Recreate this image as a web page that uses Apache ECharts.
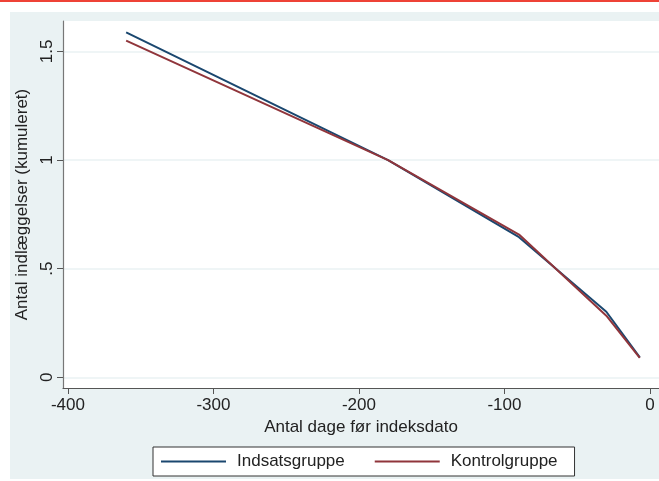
<!DOCTYPE html>
<html>
<head>
<meta charset="utf-8">
<script src="https://cdn.jsdelivr.net/npm/echarts@6/dist/echarts.min.js"></script>
<style>
  html, body { margin: 0; padding: 0; background: #fff; }
  #chart { width: 659px; height: 481px; }
</style>
</head>
<body>
<div id="chart"></div>
<script>
// Cumulative admissions over the days before the index date
const days = [-360, -180, -90, -30, -7];
const indsatsgruppe = [1.588, 1.0, 0.645, 0.302, 0.092];
const kontrolgruppe = [1.550, 1.0, 0.657, 0.284, 0.090];

const xTicks = [-400, -300, -200, -100, 0];
const yTicks = [0, 0.5, 1, 1.5];
const yTickLabels = ['0', '.5', '1', '1.5'];

const seriesNames = ['Indsatsgruppe', 'Kontrolgruppe'];
const seriesColors = ['#1a476f', '#90353b'];

const FONT = '"Liberation Sans", Arial, sans-serif';
const TEXT = '#222';

function pairs(xs, ys) {
  return xs.map((x, i) => [x, ys[i]]);
}

const chart = echarts.init(document.getElementById('chart'), null, { renderer: 'canvas' });

chart.setOption({
  animation: false,
  backgroundColor: '#ffffff',
  textStyle: { fontFamily: FONT },
  graphic: [
    { type: 'rect', z: -100, shape: { x: 0, y: 0, width: 659, height: 2 }, style: { fill: '#ee4236' } },
    { type: 'rect', z: -100, shape: { x: 10, y: 12, width: 649, height: 467 }, style: { fill: '#eaf2f3' } }
  ],
  grid: {
    left: 63, top: 21, right: 0, bottom: 93,
    show: true, backgroundColor: '#ffffff', borderWidth: 0
  },
  xAxis: {
    type: 'value',
    min: -403.4, max: 6.2,
    name: 'Antal dage før indeksdato',
    nameLocation: 'middle',
    nameGap: 30,
    nameTextStyle: { fontSize: 17, color: TEXT, fontFamily: FONT },
    axisLine: { show: true, onZero: false, lineStyle: { color: '#555', width: 1.2 } },
    axisTick: { show: true, customValues: xTicks, length: 6, lineStyle: { color: '#555' } },
    axisLabel: { customValues: xTicks, margin: 9, fontSize: 17, color: TEXT, fontFamily: FONT, showMinLabel: true, showMaxLabel: true },
    splitLine: { show: false }
  },
  yAxis: {
    type: 'value',
    min: -0.049, max: 1.64,
    name: 'Antal indlæggelser (kumuleret)',
    nameLocation: 'middle',
    nameGap: 32,
    nameTextStyle: { fontSize: 17, color: TEXT, fontFamily: FONT },
    axisLine: { show: true, onZero: false, lineStyle: { color: '#777', width: 1.2 } },
    axisTick: { show: true, customValues: yTicks, length: 6, lineStyle: { color: '#555' } },
    axisLabel: {
      customValues: yTicks, rotate: 90, margin: 7, fontSize: 17, color: TEXT, fontFamily: FONT,
      formatter: v => { const i = yTicks.indexOf(v); return i >= 0 ? yTickLabels[i] : ''; }
    },
    splitLine: { show: true, lineStyle: { color: '#eaf2f3', width: 1.5 } }
  },
  legend: {
    left: 153, top: 447,
    orient: 'horizontal',
    backgroundColor: '#ffffff',
    borderColor: '#333',
    borderWidth: 1,
    borderRadius: 0,
    padding: [6, 17, 6, 8],
    itemGap: 30,
    itemWidth: 65,
    itemHeight: 2,
    icon: 'rect',
    textStyle: { fontSize: 17, color: TEXT, fontFamily: FONT, padding: [0, 0, 0, 6] },
    data: seriesNames
  },
  series: [
    {
      name: seriesNames[0], type: 'line', data: pairs(days, indsatsgruppe),
      showSymbol: false, symbol: 'none',
      lineStyle: { color: seriesColors[0], width: 2 }, itemStyle: { color: seriesColors[0] }, z: 2
    },
    {
      name: seriesNames[1], type: 'line', data: pairs(days, kontrolgruppe),
      showSymbol: false, symbol: 'none',
      lineStyle: { color: seriesColors[1], width: 2 }, itemStyle: { color: seriesColors[1] }, z: 3
    }
  ]
});
</script>
</body>
</html>
